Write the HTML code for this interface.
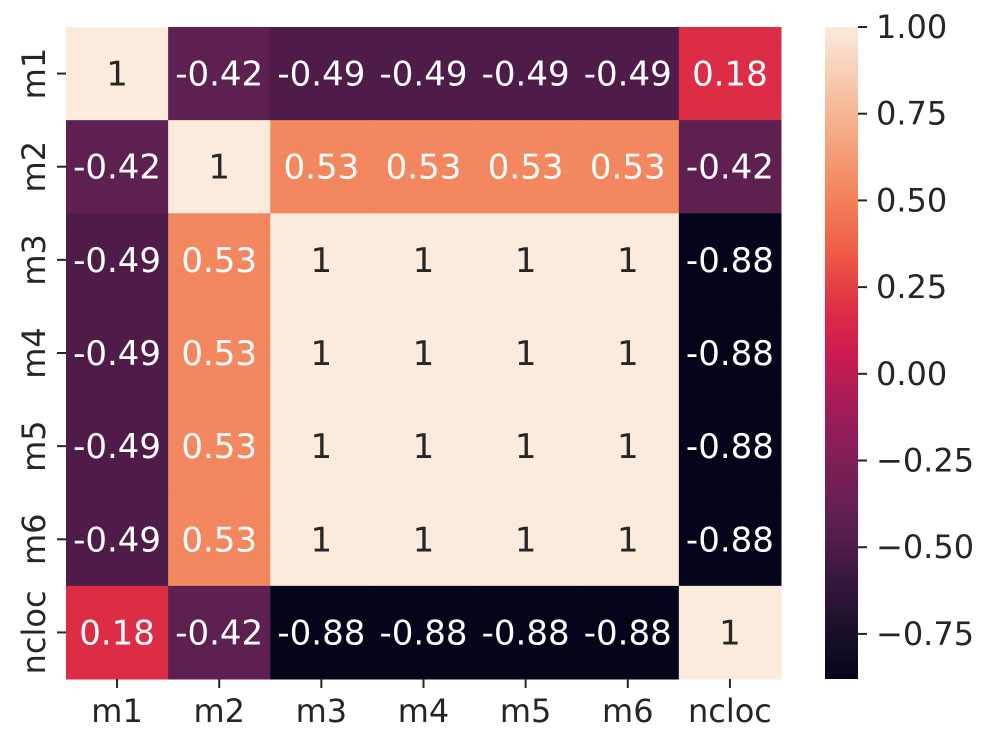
<!DOCTYPE html>
<html><head><meta charset="utf-8"><style>
body{margin:0;background:#fff}
svg{display:block;font-family:"DejaVu Sans","Liberation Sans",sans-serif}
</style></head><body>
<svg id="chart" width="992" height="746"></svg>
<script>
const labels=["m1","m2","m3","m4","m5","m6","ncloc"];
const matrix=[
[1,-0.42,-0.49,-0.49,-0.49,-0.49,0.18],
[-0.42,1,0.53,0.53,0.53,0.53,-0.42],
[-0.49,0.53,1,1,1,1,-0.88],
[-0.49,0.53,1,1,1,1,-0.88],
[-0.49,0.53,1,1,1,1,-0.88],
[-0.49,0.53,1,1,1,1,-0.88],
[0.18,-0.42,-0.88,-0.88,-0.88,-0.88,1]];
const cbTicks=[1.00,0.75,0.50,0.25,0.00,-0.25,-0.50,-0.75];
const vmin=-0.88, vmax=1.0;
const stops=[[0,"#03051a"],[0.1,"#221331"],[0.207,"#4f1c4a"],[0.245,"#5e2050"],[0.375,"#8f1d5a"],[0.5,"#cb1b4f"],[0.564,"#dd2c45"],[0.65,"#ee5a46"],[0.75,"#f3875f"],[0.875,"#f6b996"],[1,"#faebdd"]];
function hex(h){return [1,3,5].map(i=>parseInt(h.substr(i,2),16));}
function cmap(v){let t=(v-vmin)/(vmax-vmin);t=Math.max(0,Math.min(1,t));
for(let i=1;i<stops.length;i++){if(t<=stops[i][0]){const a=stops[i-1],b=stops[i];const f=(t-a[0])/(b[0]-a[0]);const ca=hex(a[1]),cb=hex(b[1]);
return "rgb("+ca.map((c,k)=>Math.round(c+(cb[k]-c)*f)).join(",")+")";}}return stops[stops.length-1][1];}
const L=66,T=27,R=781,B=679;
const cw=(R-L)/labels.length, ch=(B-T)/labels.length;
const xPos=i=>L+cw*i, yPos=i=>T+ch*i;
const svg=document.getElementById("chart");const NS="http://www.w3.org/2000/svg";
function el(tag,attrs,parent){const e=document.createElementNS(NS,tag);for(const k in attrs)e.setAttribute(k,attrs[k]);(parent||svg).appendChild(e);return e;}
for(let r=0;r<labels.length;r++)for(let c=0;c<labels.length;c++){
 const v=matrix[r][c];
 const rect=el("rect",{x:xPos(c),y:yPos(r),width:cw+0.5,height:ch+0.5,fill:cmap(v)});
 
 
 const t=el("text",{x:xPos(c)+cw/2,y:yPos(r)+ch/2+12,"text-anchor":"middle","font-size":"34",fill:((v-vmin)/(vmax-vmin)>0.8)?"#262626":"#ffffff"});
 t.textContent=(v===1)?"1":String(v);
 
 
}
labels.forEach((lab,i)=>{
 const cx=xPos(i)+cw/2;
 el("line",{x1:cx,x2:cx,y1:B,y2:B+9,stroke:"#262626","stroke-width":"2"});
 const t=el("text",{x:cx,y:B+43,"text-anchor":"middle","font-size":"32",fill:"#262626"});t.textContent=lab;
 
 
 const cy=yPos(i)+ch/2;
 el("line",{x1:L-9,x2:L,y1:cy,y2:cy,stroke:"#262626","stroke-width":"2"});
 const ty=el("text",{x:0,y:0,"text-anchor":"middle","font-size":"32",fill:"#262626",transform:`translate(45,${cy}) rotate(-90)`});ty.textContent=lab;
 
 
});
const cbL=825,cbR=858;
const defs=el("defs",{});const g=el("linearGradient",{id:"cbg",x1:"0",y1:"1",x2:"0",y2:"0"},defs);
stops.forEach(s=>el("stop",{offset:s[0],"stop-color":s[1]},g));
const cb=el("rect",{x:cbL,y:T,width:cbR-cbL,height:B-T,fill:"url(#cbg)"});


const cbY=v=>B-(v-vmin)/(vmax-vmin)*(B-T);
cbTicks.forEach(v=>{const y=cbY(v);
 el("line",{x1:cbR,x2:cbR+9,y1:y,y2:y,stroke:"#262626","stroke-width":"2"});
 const t=el("text",{x:cbR+18,y:y+11,"font-size":"32",fill:"#262626"});
 t.textContent=(v<0?"\u2212":"")+Math.abs(v).toFixed(2);
 
 
});
</script>
</body></html>
